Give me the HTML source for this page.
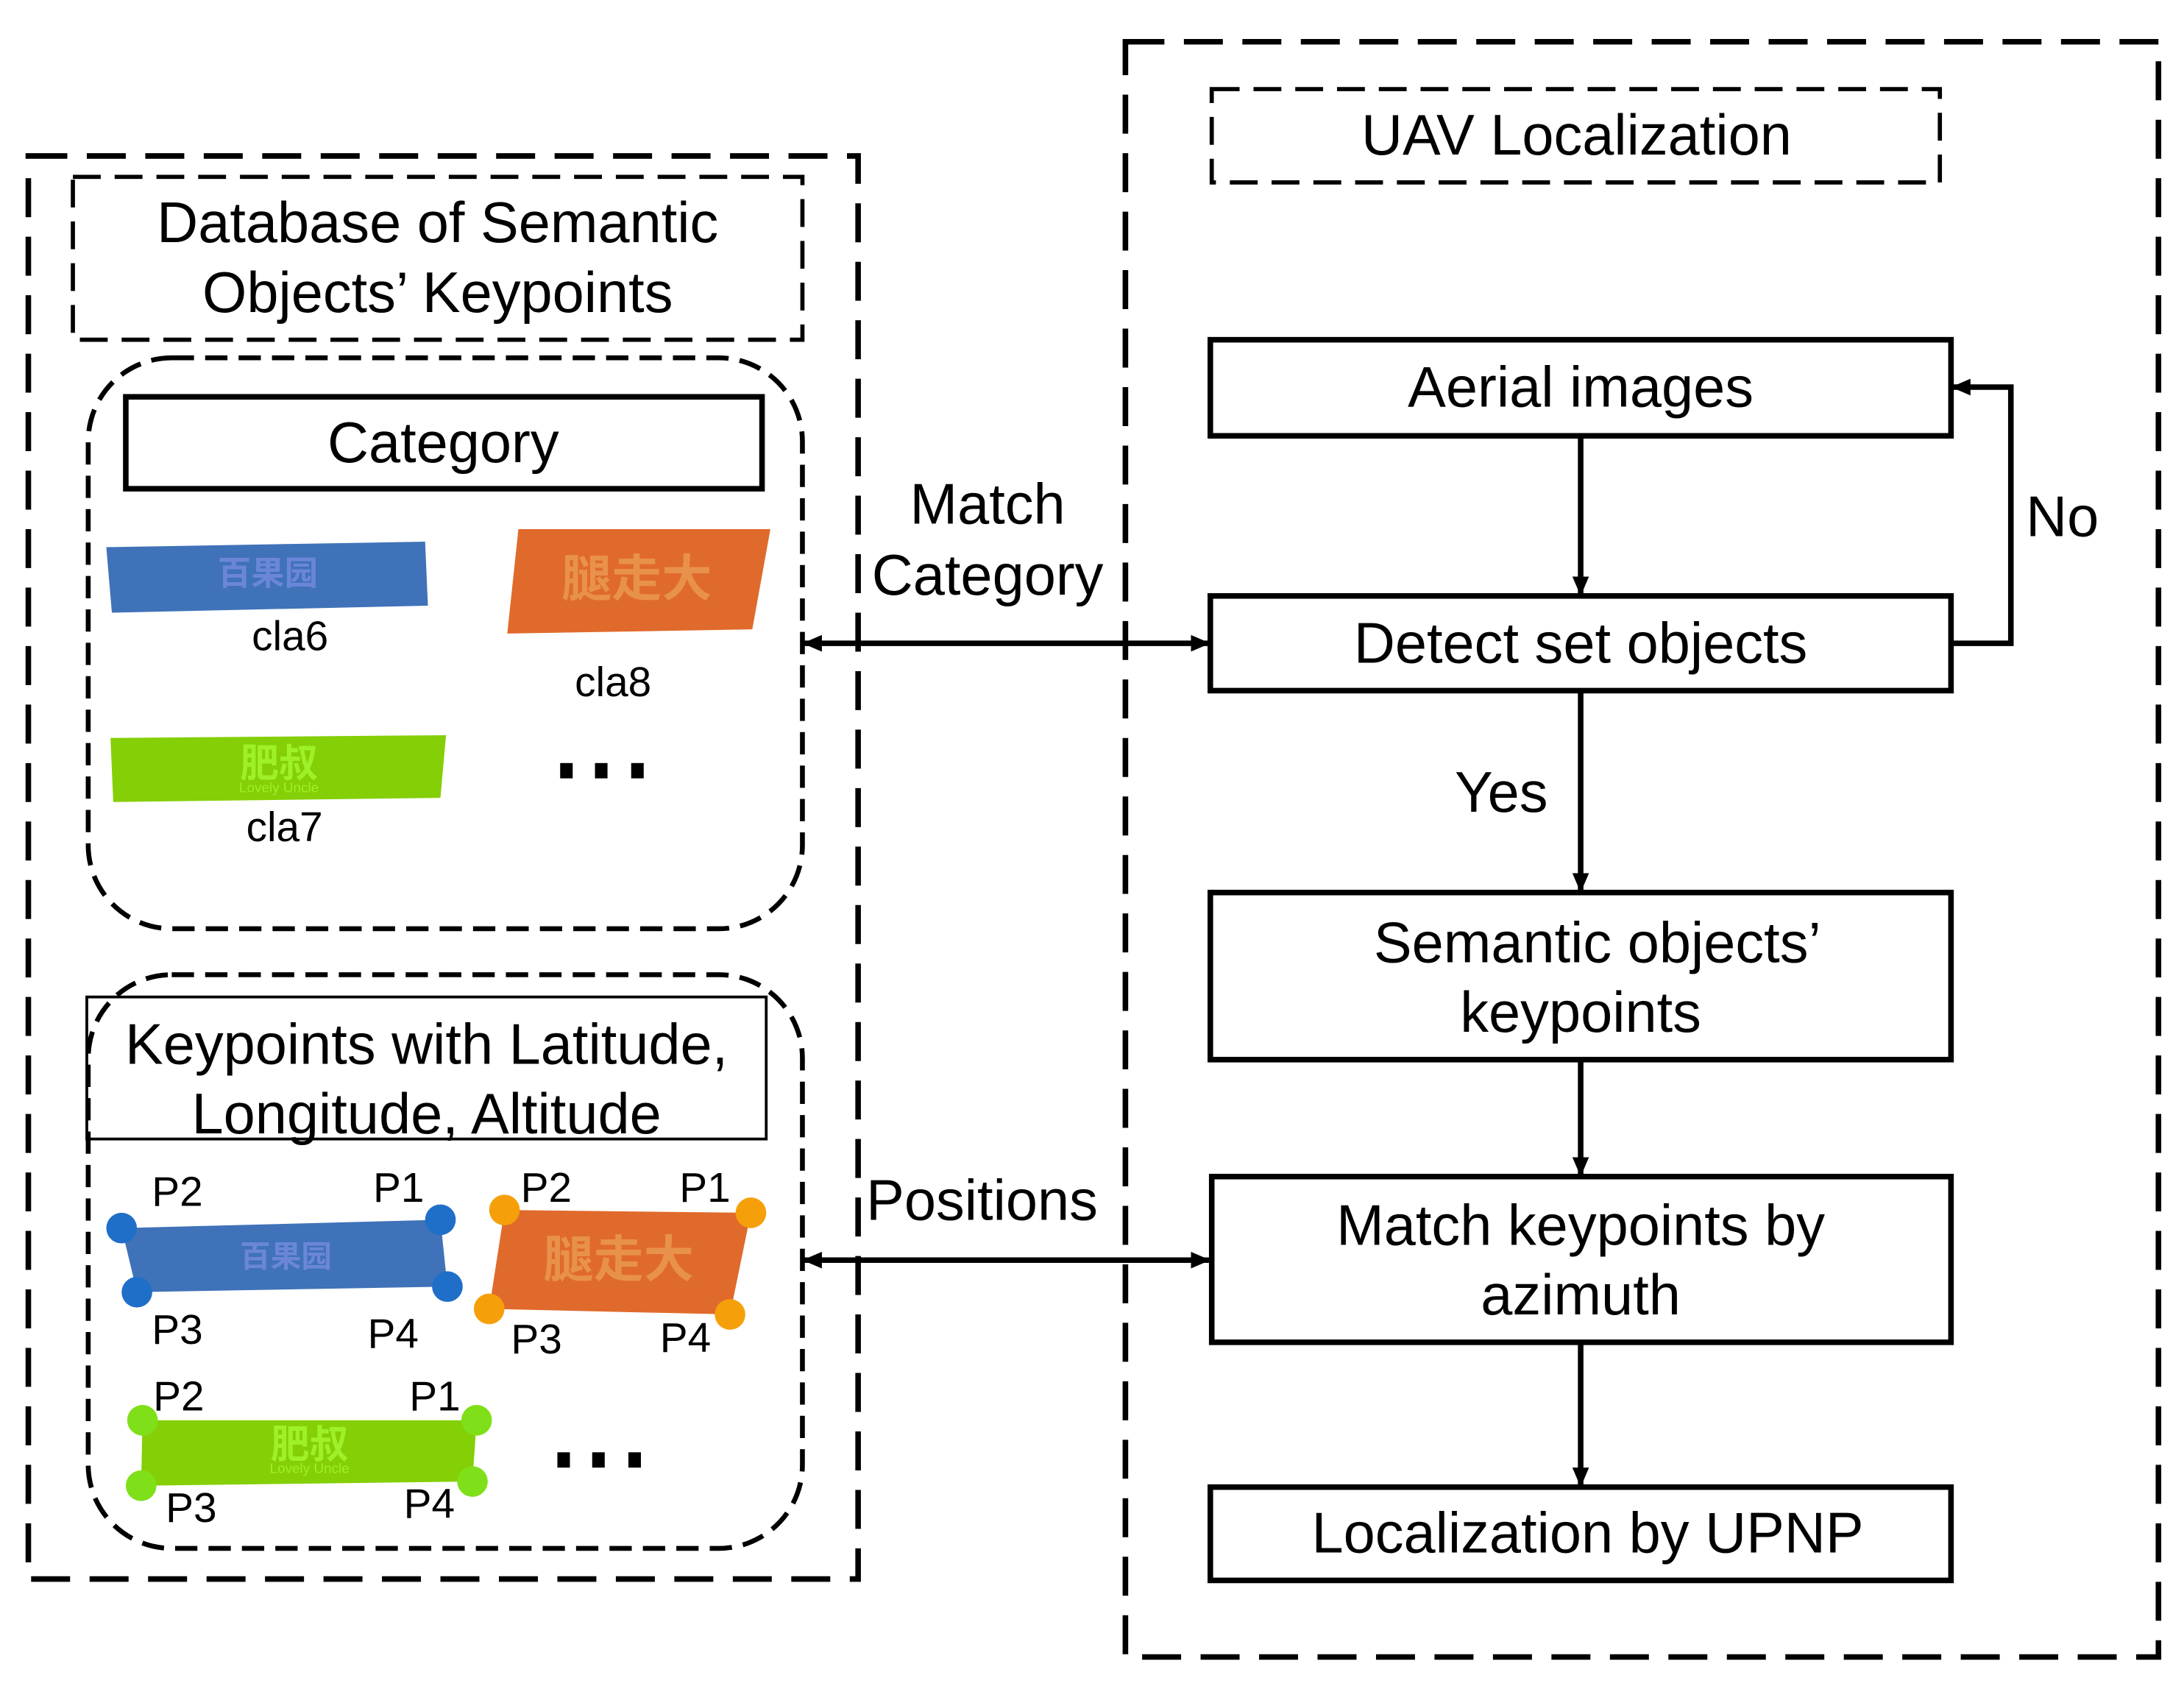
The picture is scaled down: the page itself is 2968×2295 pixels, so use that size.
<!DOCTYPE html>
<html><head><style>html,body{margin:0;padding:0;background:#fff}svg{display:block}</style></head>
<body>
<svg width="2968" height="2295" viewBox="0 0 1568 1213" xmlns="http://www.w3.org/2000/svg" font-family="'Liberation Sans','Noto Sans CJK SC',sans-serif">
<defs>
<marker id="ah" markerWidth="14" markerHeight="12" refX="13" refY="6" orient="auto-start-reverse" markerUnits="userSpaceOnUse"><path d="M0,0 L14,6 L0,12 z" fill="#000"/></marker>
</defs>
<g fill="none" stroke="#000" stroke-width="4" stroke-dasharray="28,14">
<rect x="20" y="112" width="596" height="1022"/>
<rect x="808" y="30" width="742" height="1160"/>
</g>
<g fill="none" stroke="#000" stroke-width="3" stroke-dasharray="20,10">
<rect x="52" y="127" width="524" height="117"/>
<rect x="870" y="64" width="523" height="67"/>
</g>
<g fill="none" stroke="#000" stroke-width="3.5" stroke-dasharray="16,8">
<rect x="63" y="257" width="513" height="410" rx="60"/>
<rect x="63" y="700" width="513" height="412" rx="60"/>
</g>
<g fill="#fff" stroke="#000" stroke-width="4">
<rect x="90" y="285" width="457" height="66"/>
<rect x="869" y="244" width="532" height="69"/>
<rect x="869" y="428" width="532" height="68"/>
<rect x="869" y="641" width="532" height="120"/>
<rect x="870" y="845" width="531" height="119"/>
<rect x="869" y="1068" width="532" height="67"/>
</g>
<rect x="62" y="716" width="488" height="102" fill="none" stroke="#000" stroke-width="2"/>
<g font-size="41" text-anchor="middle" fill="#000">
<text x="314" y="174">Database of Semantic</text>
<text x="314" y="224">Objects’ Keypoints</text>
<text x="318" y="332">Category</text>
<text x="306" y="764">Keypoints with Latitude,</text>
<text x="306" y="814">Longitude, Altitude</text>
<text x="1132" y="111">UAV Localization</text>
<text x="1135" y="292">Aerial images</text>
<text x="1135" y="476">Detect set objects</text>
<text x="1147" y="691">Semantic objects’</text>
<text x="1135" y="741">keypoints</text>
<text x="1135" y="894">Match keypoints by</text>
<text x="1135" y="944">azimuth</text>
<text x="1140" y="1115">Localization by UPNP</text>
<text x="709" y="376">Match</text>
<text x="709" y="427">Category</text>
<text x="705" y="876">Positions</text>
<text x="1078" y="583">Yes</text>
<text x="1481" y="385">No</text>
</g>
<g font-size="30" text-anchor="middle" fill="#000">
<text x="208" y="467">cla6</text>
<text x="440" y="500">cla8</text>
<text x="204" y="604">cla7</text>
<text x="127" y="866">P2</text><text x="286" y="863">P1</text>
<text x="127" y="965">P3</text><text x="282" y="968">P4</text>
<text x="392" y="863">P2</text><text x="506" y="863">P1</text>
<text x="385" y="972">P3</text><text x="492" y="971">P4</text>
<text x="128" y="1013">P2</text><text x="312" y="1013">P1</text>
<text x="137" y="1093">P3</text><text x="308" y="1090">P4</text>
</g>
<g fill="#000">
<rect x="402" y="548" width="9" height="11"/><rect x="427" y="548" width="9" height="11"/><rect x="453" y="548" width="9" height="11"/>
<rect x="400" y="1043" width="9" height="11"/><rect x="425" y="1043" width="9" height="11"/><rect x="451" y="1043" width="9" height="11"/>
</g>
<polygon points="76,393 305,389 307,435 80,440" fill="#3f72b8"/>
<text x="192" y="420" font-size="24" font-weight="bold" fill="#6b86d8" text-anchor="middle">百果园</text>
<polygon points="372,380 553,380 540,452 364,455" fill="#e06a2c"/>
<text x="457" y="428" font-size="36" font-weight="bold" fill="#e8914a" text-anchor="middle">腿走大</text>
<polygon points="79,530 320,528 316,573 81,576" fill="#84cf06"/>
<text x="200" y="558" font-size="28" font-weight="bold" fill="#9ef028" text-anchor="middle">肥叔</text>
<text x="200" y="569" font-size="10" fill="#9ef028" text-anchor="middle">Lovely Uncle</text>
<polygon points="87,882 316,876 321,924 98,928" fill="#3f72b8"/>
<text x="205" y="910" font-size="22" font-weight="bold" fill="#6b86d8" text-anchor="middle">百果园</text>
<polygon points="362,869 539,871 524,944 351,940" fill="#e06a2c"/>
<text x="444" y="917" font-size="36" font-weight="bold" fill="#e8914a" text-anchor="middle">腿走大</text>
<polygon points="102,1020 342,1020 339,1064 101,1067" fill="#84cf06"/>
<text x="222" y="1047" font-size="28" font-weight="bold" fill="#9ef028" text-anchor="middle">肥叔</text>
<text x="222" y="1058" font-size="10" fill="#9ef028" text-anchor="middle">Lovely Uncle</text>
<g fill="#1f6fc8"><circle cx="87" cy="882" r="11"/><circle cx="316" cy="876" r="11"/><circle cx="321" cy="924" r="11"/><circle cx="98" cy="928" r="11"/></g>
<g fill="#f5a00a"><circle cx="362" cy="869" r="11"/><circle cx="539" cy="871" r="11"/><circle cx="524" cy="944" r="11"/><circle cx="351" cy="940" r="11"/></g>
<g fill="#7fe01a"><circle cx="102" cy="1020" r="11"/><circle cx="342" cy="1020" r="11"/><circle cx="339" cy="1064" r="11"/><circle cx="101" cy="1067" r="11"/></g>
<g stroke="#000" stroke-width="4" fill="none">
<line x1="1135" y1="313" x2="1135" y2="427" marker-end="url(#ah)"/>
<line x1="1135" y1="496" x2="1135" y2="640" marker-end="url(#ah)"/>
<line x1="1135" y1="761" x2="1135" y2="844" marker-end="url(#ah)"/>
<line x1="1135" y1="964" x2="1135" y2="1067" marker-end="url(#ah)"/>
<polyline points="1401,462 1444,462 1444,278 1402,278" marker-end="url(#ah)"/>
<line x1="577" y1="462" x2="868" y2="462" marker-start="url(#ah)" marker-end="url(#ah)"/>
<line x1="577" y1="905" x2="868" y2="905" marker-start="url(#ah)" marker-end="url(#ah)"/>
</g>
</svg>
</body></html>
